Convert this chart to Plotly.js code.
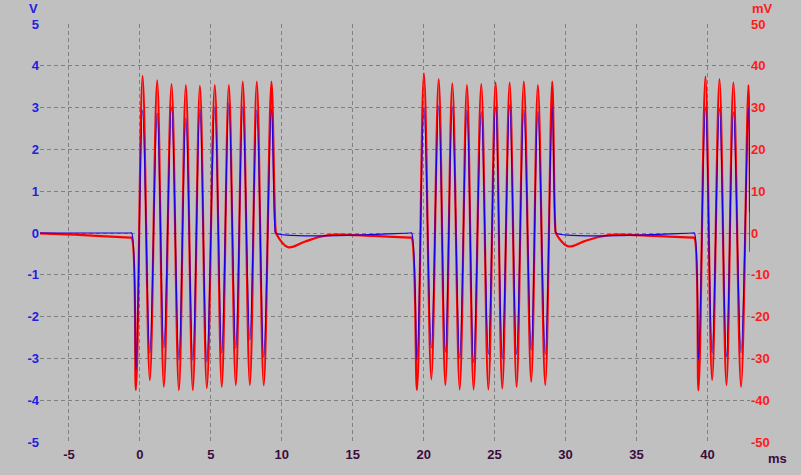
<!DOCTYPE html>
<html>
<head>
<meta charset="utf-8">
<script src="https://cdn.plot.ly/plotly-3.0.1.min.js"></script>
<style>
  html, body { margin: 0; padding: 0; background: #c0c0c0; }
  #chart { width: 801px; height: 475px; }
</style>
</head>
<body>
<div id="chart"></div>
<script>
// Blue trace (left axis, V)
var blueT = [-7.04, -0.70, -0.58,
  -0.28, 0.19, 0.70, 1.22, 1.69, 2.23, 2.75, 3.24, 3.73, 4.23, 4.72, 5.28, 5.77, 6.27, 6.76, 7.25, 7.75, 8.24, 8.73, 9.27,
  9.52, 9.58, 19.03, 19.15,
  19.53, 20.02, 20.54, 21.06, 21.53, 22.02, 22.54, 23.05, 23.52, 24.06, 24.56, 25.07, 25.54, 26.06, 26.55, 27.06, 27.58, 28.05, 28.57, 29.06,
  29.28, 29.34, 38.96, 39.08,
  39.37, 39.86, 40.33, 40.85, 41.34, 41.83, 42.37, 42.89, 43.0];
var blueV = [0, 0, 0,
  -3.28, 2.94, -2.87, 2.87, -2.75, 3.02, -3.04, 2.75, -3.04, 2.97, -3.09, 3.02, -2.87, 3.11, -2.75, 3.02, -2.56, 2.94, -2.97, 2.97,
  0.1, 0, 0, 0,
  -3.04, 3.02, -2.75, 3.04, -2.85, 3.02, -3.0, 2.94, -3.1, 2.90, -2.9, 3.02, -3.0, 3.06, -2.9, 2.94, -2.8, 2.90, -2.9, 3.02,
  0.1, 0, 0, 0,
  -3.04, 3.02, -2.87, 2.98, -2.96, 2.90, -2.87, 3.0, -0.45];

// Red trace (right axis, mV)
var redT = [-7.04, -4.0, -0.70, -0.58,
  -0.28, 0.19, 0.70, 1.22, 1.69, 2.23, 2.75, 3.24, 3.73, 4.23, 4.72, 5.28, 5.77, 6.27, 6.76, 7.25, 7.75, 8.24, 8.73, 9.27,
  9.56, 9.62, 10.45, 11.6, 12.7, 13.7, 16.5, 19.05, 19.15,
  19.53, 20.02, 20.54, 21.06, 21.53, 22.02, 22.54, 23.05, 23.52, 24.06, 24.56, 25.07, 25.54, 26.06, 26.55, 27.06, 27.58, 28.05, 28.57, 29.06,
  29.28, 29.34, 30.2, 31.3, 32.4, 33.5, 36.3, 38.98, 39.08,
  39.37, 39.86, 40.33, 40.85, 41.34, 41.83, 42.37, 42.89, 43.0];
var redMV = [-0.1, -0.5, -1.1, -1.1,
  -37.6, 37.6, -35.2, 36.5, -36.8, 35.6, -37.6, 35.4, -37.6, 35.2, -37.1, 35.4, -36.8, 35.4, -36.4, 36.2, -36.4, 36.2, -36.4, 36.2,
  1.0, -0.2, -3.4, -2.1, -0.9, -0.4, -0.7, -1.1, -1.1,
  -37.6, 38.2, -35.0, 36.8, -36.4, 35.8, -37.4, 35.4, -37.4, 35.6, -37.4, 36.0, -37.2, 36.0, -36.8, 36.2, -35.6, 35.4, -36.4, 36.2,
  1.0, -0.2, -3.2, -2.0, -0.9, -0.4, -0.7, -1.1, -1.1,
  -37.6, 37.4, -35.2, 36.8, -36.4, 36.0, -36.8, 35.4, 5.0];

var leftTicks = [-5, -4, -3, -2, -1, 0, 1, 2, 3, 4, 5];
var rightTicks = [-50, -40, -30, -20, -10, 0, 10, 20, 30, 40, 50];
var xTicks = [-5, 0, 5, 10, 15, 20, 25, 30, 35, 40];

// Red on the base (right, mV) axis; blue on the overlaying (left, V) axis so it is drawn on top.
var traces = [
  { x: redT, y: redMV, yaxis: 'y', type: 'scatter', mode: 'lines',
    line: { color: '#ff0000', width: 2.2, shape: 'spline', smoothing: 1 }, hoverinfo: 'skip' },
  { x: blueT, y: blueV, yaxis: 'y2', type: 'scatter', mode: 'lines',
    line: { color: '#1a00e6', width: 1.2, shape: 'spline', smoothing: 1 }, hoverinfo: 'skip' }
];

var fontFam = 'Liberation Sans, Arial, sans-serif';
var layout = {
  width: 801, height: 475,
  margin: { l: 40, r: 51, t: 24, b: 33, pad: 0 },
  paper_bgcolor: '#c0c0c0', plot_bgcolor: '#c0c0c0',
  showlegend: false,
  xaxis: {
    range: [-7.04, 43.0], tickvals: xTicks, ticktext: xTicks.map(String),
    showgrid: true, gridcolor: '#808080', gridwidth: 1, griddash: '4px,3px',
    zeroline: false, showline: false, ticks: '', ticklabelstandoff: 3,
    tickfont: { family: fontFam, size: 13, color: '#3c0c3c', weight: 700 }
  },
  yaxis: {
    range: [-50, 50], tickvals: rightTicks, ticktext: rightTicks.map(String),
    side: 'right',
    showgrid: true, gridcolor: '#808080', gridwidth: 1, griddash: '4px,3px',
    zeroline: false, showline: false, ticks: '',
    tickfont: { family: fontFam, size: 13, color: '#ff1a1a', weight: 700 }
  },
  yaxis2: {
    range: [-5, 5], tickvals: leftTicks, ticktext: leftTicks.map(String),
    overlaying: 'y', side: 'left', showgrid: false, zeroline: false, showline: false, ticks: '',
    tickfont: { family: fontFam, size: 13, color: '#2020e0', weight: 700 }
  },
  annotations: [
    { text: 'V', xref: 'paper', yref: 'paper', x: 0, y: 1.037, xanchor: 'right', yanchor: 'middle',
      showarrow: false, font: { family: fontFam, size: 13, color: '#2020e0', weight: 700 } },
    { text: 'mV', xref: 'paper', yref: 'paper', x: 1, y: 1.037, xanchor: 'left', yanchor: 'middle', xshift: 0,
      showarrow: false, font: { family: fontFam, size: 13, color: '#ff1a1a', weight: 700 } },
    { text: 'ms', xref: 'paper', yref: 'paper', x: 1.0387, y: -0.039, xanchor: 'center', yanchor: 'middle',
      showarrow: false, font: { family: fontFam, size: 13, color: '#3c0c3c', weight: 700 } }
  ]
};

Plotly.newPlot('chart', traces, layout, { displayModeBar: false, staticPlot: true });
</script>
</body>
</html>
